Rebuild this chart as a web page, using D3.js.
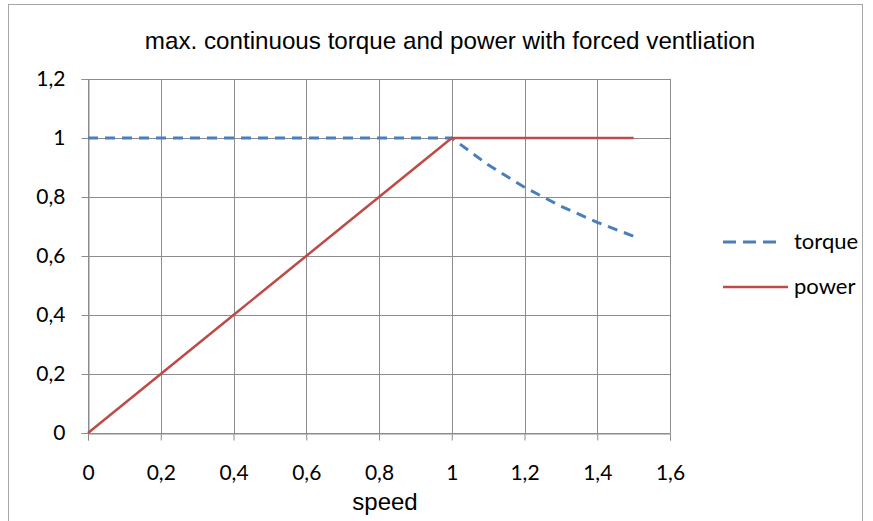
<!DOCTYPE html>
<html>
<head>
<meta charset="utf-8">
<script src="https://cdn.jsdelivr.net/npm/d3@7"></script>
<style>
  body { margin: 0; background: #fff; }
  text { font-family: Lato, "Open Sans", sans-serif; fill: #000; }
</style>
</head>
<body>
<script>
// chart data
var speed = [0, 0.1, 0.2, 0.3, 0.4, 0.5, 0.6, 0.7, 0.8, 0.9, 1, 1.1, 1.2, 1.3, 1.4, 1.5];
var torque = [1, 1, 1, 1, 1, 1, 1, 1, 1, 1, 1, 0.909, 0.833, 0.769, 0.714, 0.667];
var power = [0, 0.1, 0.2, 0.3, 0.4, 0.5, 0.6, 0.7, 0.8, 0.9, 1, 1, 1, 1, 1, 1];
var xTicks = [0, 0.2, 0.4, 0.6, 0.8, 1, 1.2, 1.4, 1.6];
var yTicks = [0, 0.2, 0.4, 0.6, 0.8, 1, 1.2];

var width = 873;
var height = 521;

var svg = d3.select("body")
  .append("svg")
  .attr("width", width)
  .attr("height", height);

// outer chart border
svg.append("rect")
  .attr("x", 8.5).attr("y", 4.5)
  .attr("width", 854).attr("height", 530)
  .attr("fill", "none")
  .attr("stroke", "#a6a6a6");

var x = d3.scaleLinear().domain([0, 1.6]).range([88, 670]);
var y = d3.scaleLinear().domain([0, 1.2]).range([433, 79]);

var fmt = function(d) { return String(d).replace(".", ","); };

// grid
svg.append("g").selectAll("line")
  .data(xTicks)
  .enter().append("line")
  .attr("x1", function(d) { return Math.round(x(d)) + 0.5; })
  .attr("x2", function(d) { return Math.round(x(d)) + 0.5; })
  .attr("y1", y(1.2)).attr("y2", y(0))
  .attr("stroke", "#8c8c8c");

svg.append("g").selectAll("line")
  .data(yTicks)
  .enter().append("line")
  .attr("x1", x(0)).attr("x2", x(1.6))
  .attr("y1", function(d) { return Math.round(y(d)) + 0.5; })
  .attr("y2", function(d) { return Math.round(y(d)) + 0.5; })
  .attr("stroke", "#8c8c8c");

// axes
var xAxis = svg.append("g")
  .attr("transform", "translate(0," + (Math.round(y(0)) + 0.5) + ")")
  .call(d3.axisBottom(x).tickValues(xTicks).tickFormat(fmt).tickSizeOuter(0).tickSize(7).tickPadding(25));
var yAxis = svg.append("g")
  .attr("transform", "translate(" + (Math.round(x(0)) + 0.5) + ",0)")
  .call(d3.axisLeft(y).tickValues(yTicks).tickFormat(fmt).tickSizeOuter(0).tickSize(7).tickPadding(16));

[xAxis, yAxis].forEach(function(a) {
  a.select(".domain").attr("stroke", "#8c8c8c");
  a.selectAll(".tick line").attr("stroke", "#8c8c8c");
  a.selectAll(".tick text")
    .style("font-family", "Lato, 'Open Sans', sans-serif")
    .style("font-size", "21px")
    .attr("fill", "#000");
});

// lines
var line = function(vals) {
  return d3.line()
    .x(function(d, i) { return x(speed[i]); })
    .y(function(d) { return y(d); })(vals);
};

svg.append("path")
  .attr("d", line(torque))
  .attr("fill", "none")
  .attr("stroke", "#4a7ebb")
  .attr("stroke-width", 3)
  .attr("stroke-dasharray", "10,7");

svg.append("path")
  .attr("d", line(power))
  .attr("fill", "none")
  .attr("stroke", "#be4b48")
  .attr("stroke-width", 2.5);

// title
svg.append("text")
  .attr("x", 450).attr("y", 49)
  .attr("text-anchor", "middle")
  .style("font-family", "'Liberation Sans', Arial, sans-serif")
  .style("font-size", "24.2px")
  .text("max. continuous torque and power with forced ventliation");

// x label
svg.append("text")
  .attr("x", 385).attr("y", 510)
  .attr("text-anchor", "middle")
  .style("font-family", "'Liberation Sans', Arial, sans-serif")
  .style("font-size", "24px")
  .text("speed");

// legend
var legend = [
  {name: "torque", color: "#4a7ebb", dash: "13,7", w: 3, y: 242, x2: 777},
  {name: "power", color: "#be4b48", dash: null, w: 2.5, y: 287, x2: 788}
];
var lg = svg.append("g").selectAll("g")
  .data(legend)
  .enter().append("g");
lg.append("line")
  .attr("x1", 723)
  .attr("x2", function(d) { return d.x2; })
  .attr("y1", function(d) { return d.y; })
  .attr("y2", function(d) { return d.y; })
  .attr("stroke", function(d) { return d.color; })
  .attr("stroke-width", function(d) { return d.w; })
  .attr("stroke-dasharray", function(d) { return d.dash; });
lg.append("text")
  .attr("x", 794)
  .attr("y", function(d) { return d.y + 7; })
  .style("font-size", "22px")
  .text(function(d) { return d.name; });
</script>
</body>
</html>
